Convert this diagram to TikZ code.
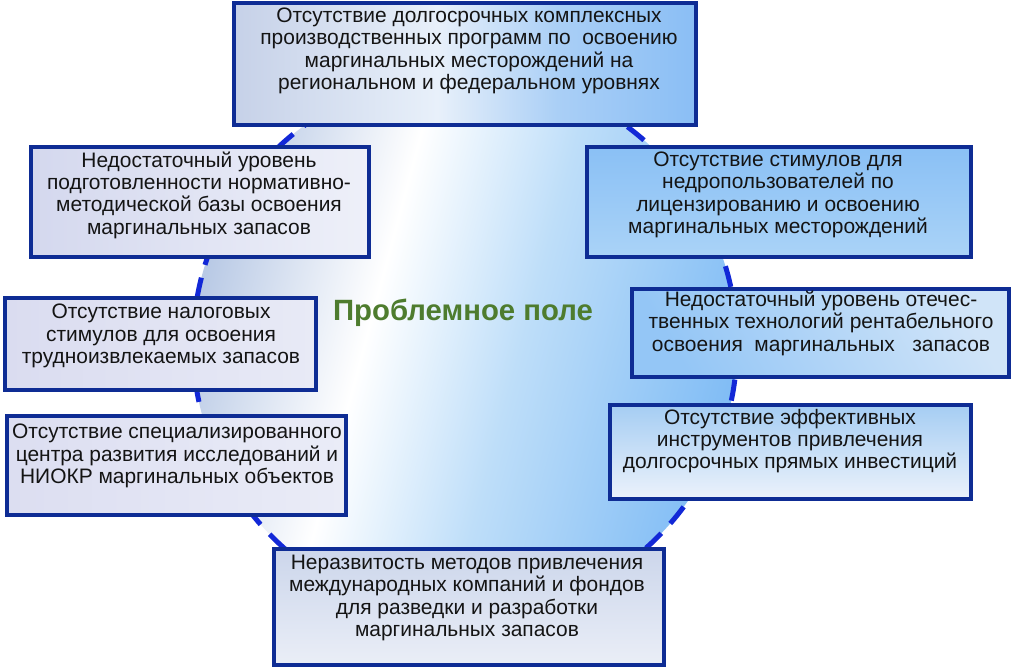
\documentclass[tikz,border=0pt]{standalone}
\usepackage{fontspec}
\setmainfont{Liberation Sans}
\usetikzlibrary{fit}
\definecolor{bord}{RGB}{14,44,148}
\definecolor{dashc}{RGB}{18,40,215}
\definecolor{cL}{RGB}{184,201,229}
\definecolor{cMid}{RGB}{190,222,249}
\definecolor{cR}{RGB}{128,188,245}
\definecolor{titleg}{RGB}{78,124,46}
\definecolor{tA}{RGB}{198,209,232}
\definecolor{tB}{RGB}{232,240,250}
\definecolor{tC}{RGB}{170,207,246}
\definecolor{tD}{RGB}{138,190,245}
\pgfdeclarehorizontalshading{circsh}{100bp}{color(0bp)=(cL); color(25bp)=(cL); color(41bp)=(white); color(55bp)=(cMid); color(75bp)=(cR); color(100bp)=(cR)}
\pgfdeclarehorizontalshading{topsh}{100bp}{color(0bp)=(tA); color(25bp)=(tA); color(47bp)=(tB); color(60bp)=(tC); color(75bp)=(tD); color(100bp)=(tD)}
\tikzset{
  box/.style={draw=bord, line width=3.4pt, inner sep=0pt},
  txt/.style={align=center, font=\fontsize{15.7}{16.8}\selectfont, text=black!92, inner sep=0pt},
  ring/.style={draw=dashc, line width=3.75pt, dash pattern=on 16pt off 10pt},
  title/.style={font=\fontsize{22}{24}\selectfont\bfseries, text=titleg, inner sep=0pt}
}
\begin{document}
\begin{tikzpicture}[x=0.75pt,y=-0.75pt]
\useasboundingbox (0,0) rectangle (1012,668);
\fill[white] (0,0) rectangle (1012,668);
\path[shading=circsh, shading angle=-15] (465,345) circle (272);
\draw[ring] (465,345) circle (272);

\node[box, shading=topsh, fit={(234,3)(696,125)}] (b1) {};
\node[box, left color={rgb,255:red,212;green,216;blue,238}, right color={rgb,255:red,238;green,240;blue,249}, fit={(31,147)(369,257)}] (l1) {};
\node[box, left color={rgb,255:red,218;green,220;blue,240}, right color={rgb,255:red,232;green,234;blue,246}, fit={(5,298)(316,390)}] (l2) {};
\node[box, left color={rgb,255:red,220;green,222;blue,241}, right color={rgb,255:red,234;green,236;blue,247}, fit={(7,416)(346,515)}] (l3) {};
\node[box, top color={rgb,255:red,138;green,192;blue,245}, bottom color={rgb,255:red,170;green,211;blue,247}, fit={(587,147)(971,257)}] (r1) {};
\node[box, left color={rgb,255:red,148;green,198;blue,246}, right color={rgb,255:red,208;green,228;blue,248}, shading angle=120, fit={(632,289)(1009,377)}] (r2) {};
\node[box, top color={rgb,255:red,165;green,205;blue,243}, bottom color={rgb,255:red,236;green,242;blue,251}, fit={(610,405)(971,499)}] (r3) {};
\node[box, top color={rgb,255:red,204;green,214;blue,235}, bottom color={rgb,255:red,234;green,238;blue,247}, fit={(274,549)(664,665)}] (bt) {};

\node[txt] (b1t) at (469,51) {Отсутствие долгосрочных комплексных\\производственных программ по\ \ освоению\\маргинальных месторождений на\\региональном и федеральном уровнях};
\node[txt] (l1t) at (199,195) {Недостаточный уровень\\подготовленности нормативно-\\методической базы освоения\\маргинальных запасов};
\node[txt] (l2t) at (161,336) {Отсутствие налоговых\\стимулов для освоения\\трудноизвлекаемых запасов};
\node[txt] (l3t) at (177,456) {Отсутствие специализированного\\центра развития исследований и\\НИОКР маргинальных объектов};
\node[txt] (r1t) at (778,195) {Отсутствие стимулов для\\недропользователей по\\лицензированию и освоению\\маргинальных месторождений};
\node[txt] (r2t) at (821,323) {Недостаточный уровень отечес-\\твенных технологий рентабельного\\освоения\ \ маргинальных\ \ \ запасов};
\node[txt] (r3t) at (790,441) {Отсутствие эффективных\\инструментов привлечения\\долгосрочных прямых инвестиций};
\node[txt] (btt) at (467,598) {Неразвитость методов привлечения\\международных компаний и фондов\\для разведки и разработки\\маргинальных запасов};
\node[title] (ttl) at (463,313) {Проблемное поле};
\end{tikzpicture}
\end{document}
